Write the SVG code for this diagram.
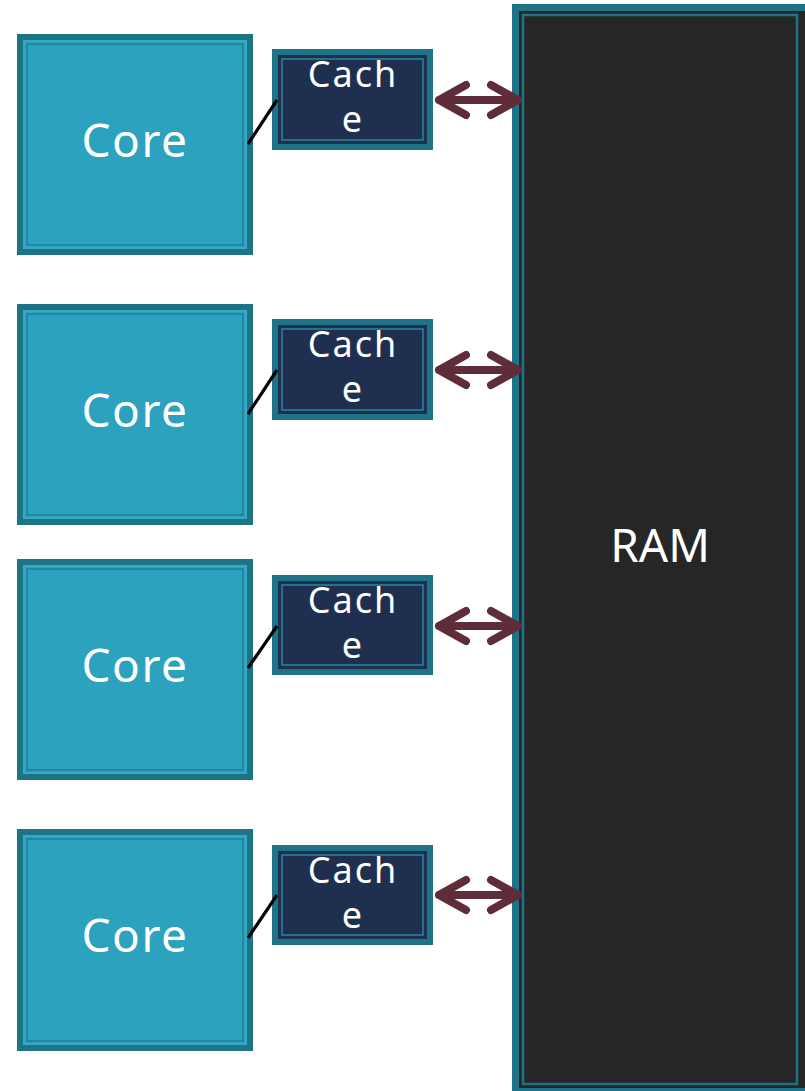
<svg xmlns="http://www.w3.org/2000/svg" width="805" height="1091" viewBox="0 0 805 1091">
  <style>
    .core-frame { fill: #2ca2bf; stroke: #1f7387; stroke-width: 6; }
    .core-line1 { fill: none; stroke: #33abc6; stroke-width: 2; }
    .core-line2 { fill: none; stroke: #1f7f96; stroke-width: 1.5; }
    .cache-frame { fill: #1e2f4f; stroke: #1f7387; stroke-width: 6; }
    .cache-line { fill: none; stroke: #2a879d; stroke-width: 1.5; }
    .ram-frame { fill: #262626; stroke: #1f7387; stroke-width: 7; }
    .ram-line { fill: none; stroke: #1f7387; stroke-width: 2.5; }
    .label { font-family: "Noto Sans", "DejaVu Sans", sans-serif; fill: #ffffff; text-anchor: middle; }
    .core-text { font-size: 46px; letter-spacing: 1.5px; }
    .cache-text { font-size: 36px; letter-spacing: 2px; }
    .ram-text { font-size: 46px; }
    .link { stroke: #000000; stroke-width: 3.2; }
    .bus { fill: none; stroke: #5f2c3a; stroke-width: 8; stroke-linecap: round; stroke-linejoin: round; }
  </style>

  <!-- main memory -->
  <g id="ram">
    <rect class="ram-frame" x="515.5" y="7.5" width="300" height="1084"/>
    <rect class="ram-line" x="523" y="15" width="274" height="1069"/>
    <text class="label ram-text" x="660" y="562">RAM</text>
  </g>

  <!-- cores -->
  <g id="core1">
    <rect class="core-frame" x="20" y="37" width="230" height="215"/>
    <rect class="core-line1" x="24" y="41" width="222" height="207"/>
    <rect class="core-line2" x="27" y="44" width="216" height="201"/>
    <text class="label core-text" x="135" y="157">Core</text>
  </g>
  <g id="core2">
    <rect class="core-frame" x="20" y="307" width="230" height="215"/>
    <rect class="core-line1" x="24" y="311" width="222" height="207"/>
    <rect class="core-line2" x="27" y="314" width="216" height="201"/>
    <text class="label core-text" x="135" y="427">Core</text>
  </g>
  <g id="core3">
    <rect class="core-frame" x="20" y="562" width="230" height="215"/>
    <rect class="core-line1" x="24" y="566" width="222" height="207"/>
    <rect class="core-line2" x="27" y="569" width="216" height="201"/>
    <text class="label core-text" x="135" y="682">Core</text>
  </g>
  <g id="core4">
    <rect class="core-frame" x="20" y="832" width="230" height="216"/>
    <rect class="core-line1" x="24" y="836" width="222" height="208"/>
    <rect class="core-line2" x="27" y="839" width="216" height="202"/>
    <text class="label core-text" x="135" y="952">Core</text>
  </g>

  <!-- caches -->
  <g id="cache1">
    <rect class="cache-frame" x="275" y="52" width="155" height="95"/>
    <rect class="cache-line" x="282" y="59" width="141" height="81"/>
    <text class="label cache-text" x="353" y="87">Cach</text>
    <text class="label cache-text" x="353" y="132">e</text>
  </g>
  <g id="cache2">
    <rect class="cache-frame" x="275" y="322" width="155" height="95"/>
    <rect class="cache-line" x="282" y="329" width="141" height="81"/>
    <text class="label cache-text" x="353" y="357">Cach</text>
    <text class="label cache-text" x="353" y="402">e</text>
  </g>
  <g id="cache3">
    <rect class="cache-frame" x="275" y="578" width="155" height="94"/>
    <rect class="cache-line" x="282" y="585" width="141" height="80"/>
    <text class="label cache-text" x="353" y="613">Cach</text>
    <text class="label cache-text" x="353" y="658">e</text>
  </g>
  <g id="cache4">
    <rect class="cache-frame" x="275" y="848" width="155" height="94"/>
    <rect class="cache-line" x="282" y="855" width="141" height="80"/>
    <text class="label cache-text" x="353" y="883">Cach</text>
    <text class="label cache-text" x="353" y="928">e</text>
  </g>

  <!-- connectors -->
  <g id="connectors">
    <line class="link" x1="248" y1="144" x2="277" y2="100"/>
    <line class="link" x1="248" y1="414" x2="277" y2="370"/>
    <line class="link" x1="248" y1="668" x2="277" y2="626"/>
    <line class="link" x1="248" y1="938" x2="277" y2="895"/>

    <path class="bus" d="M439,100 H518 M466,85 L439,100 L466,115 M491,85 L518,100 L491,115"/>
    <path class="bus" d="M439,370 H518 M466,355 L439,370 L466,385 M491,355 L518,370 L491,385"/>
    <path class="bus" d="M439,626 H518 M466,611 L439,626 L466,641 M491,611 L518,626 L491,641"/>
    <path class="bus" d="M439,895 H518 M466,880 L439,895 L466,910 M491,880 L518,895 L491,910"/>
  </g>
</svg>
